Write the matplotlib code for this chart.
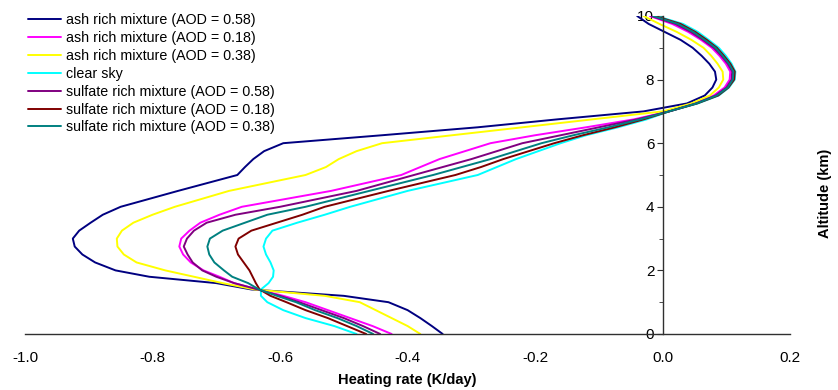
import matplotlib
matplotlib.use("Agg")
import matplotlib.pyplot as plt
from matplotlib.ticker import MultipleLocator

plt.rcParams['font.family'] = ['Liberation Sans', 'DejaVu Sans']

# Altitude levels (km)
altitude = [0, 0.25, 0.5, 0.75, 1.0, 1.2, 1.4, 1.6, 1.8, 2.0, 2.25, 2.5, 2.75, 3.0, 3.25,
            3.5, 3.75, 4.0, 4.5, 5.0, 5.25, 5.5, 5.75, 6.0, 6.25, 6.5, 6.75, 7.0, 7.25,
            7.5, 7.75, 8.0, 8.25, 8.5, 8.75, 9.0, 9.25, 9.5, 9.75, 10.0]

# Heating rate (K/day) per series at each altitude
ash_058 = [-0.345, -0.362, -0.38, -0.40, -0.43, -0.50, -0.645, -0.70, -0.805, -0.858,
           -0.89, -0.91, -0.922, -0.925, -0.915, -0.897, -0.878, -0.85, -0.76, -0.667,
           -0.655, -0.642, -0.625, -0.595, -0.44, -0.29, -0.165, -0.03, 0.038, 0.066,
           0.078, 0.084, 0.082, 0.073, 0.061, 0.047, 0.028, 0.003, -0.022, -0.04]
ash_018 = [-0.425, -0.455, -0.49, -0.525, -0.56, -0.595, -0.635, -0.672, -0.695, -0.72,
           -0.74, -0.752, -0.758, -0.755, -0.742, -0.725, -0.695, -0.66, -0.52, -0.41,
           -0.38, -0.35, -0.31, -0.27, -0.20, -0.12, -0.045, 0.01, 0.05, 0.08, 0.097,
           0.105, 0.106, 0.099, 0.089, 0.077, 0.06, 0.04, 0.015, -0.02]
ash_038 = [-0.38, -0.40, -0.425, -0.45, -0.475, -0.53, -0.64, -0.69, -0.735, -0.78,
           -0.825, -0.845, -0.855, -0.856, -0.848, -0.83, -0.80, -0.765, -0.68, -0.56,
           -0.528, -0.508, -0.48, -0.44, -0.33, -0.22, -0.11, 0.0, 0.045, 0.074, 0.088,
           0.095, 0.094, 0.086, 0.076, 0.064, 0.045, 0.022, -0.005, -0.03]
clear_sky = [-0.48, -0.515, -0.56, -0.595, -0.62, -0.63, -0.63, -0.618, -0.611, -0.61,
             -0.615, -0.622, -0.626, -0.622, -0.612, -0.573, -0.53, -0.49, -0.40, -0.29,
             -0.26, -0.23, -0.195, -0.16, -0.12, -0.07, -0.025, 0.01, 0.055, 0.088, 0.104,
             0.113, 0.114, 0.108, 0.099, 0.088, 0.072, 0.055, 0.032, -0.01]
sulf_058 = [-0.443, -0.47, -0.50, -0.535, -0.57, -0.60, -0.635, -0.672, -0.70, -0.722,
            -0.737, -0.745, -0.751, -0.746, -0.735, -0.715, -0.67, -0.60, -0.48, -0.39,
            -0.345, -0.30, -0.26, -0.22, -0.16, -0.10, -0.04, 0.01, 0.052, 0.083, 0.10,
            0.108, 0.109, 0.102, 0.092, 0.08, 0.063, 0.044, 0.02, -0.018]
sulf_018 = [-0.465, -0.495, -0.525, -0.56, -0.59, -0.615, -0.632, -0.638, -0.643, -0.648,
            -0.657, -0.666, -0.670, -0.665, -0.645, -0.605, -0.565, -0.53, -0.43, -0.325,
            -0.285, -0.25, -0.21, -0.17, -0.125, -0.075, -0.03, 0.01, 0.054, 0.087, 0.103,
            0.112, 0.113, 0.106, 0.096, 0.085, 0.069, 0.051, 0.028, -0.012]
sulf_038 = [-0.454, -0.48, -0.51, -0.545, -0.575, -0.605, -0.633, -0.65, -0.675, -0.688,
            -0.703, -0.711, -0.714, -0.71, -0.69, -0.655, -0.62, -0.56, -0.46, -0.36,
            -0.315, -0.27, -0.23, -0.19, -0.14, -0.085, -0.035, 0.01, 0.053, 0.085, 0.102,
            0.110, 0.111, 0.104, 0.094, 0.083, 0.066, 0.048, 0.024, -0.015]

labels = ["ash rich mixture (AOD = 0.58)", "ash rich mixture (AOD = 0.18)",
          "ash rich mixture (AOD = 0.38)", "clear sky",
          "sulfate rich mixture (AOD = 0.58)", "sulfate rich mixture (AOD = 0.18)",
          "sulfate rich mixture (AOD = 0.38)"]
series = [ash_058, ash_018, ash_038, clear_sky, sulf_058, sulf_018, sulf_038]
colors = ["#000080", "#FF00FF", "#FFFF00", "#00FFFF", "#800080", "#800000", "#008080"]

x_ticks = [-1.0, -0.8, -0.6, -0.4, -0.2, 0.0, 0.2]
y_ticks = [0, 2, 4, 6, 8, 10]

fig = plt.figure(figsize=(8.38, 3.9), dpi=100)
ax = fig.add_axes([0.0298, 0.1436, 0.9132, 0.8154])

handles = []
for vals, lab, col in zip(series, labels, colors):
    h, = ax.plot(vals, altitude, color=col, lw=1.4, label=lab,
                 solid_joinstyle='round', solid_capstyle='round')
    handles.append(h)

ax.set_xlim(-1.0, 0.2)
ax.set_ylim(0, 10)
ax.spines['top'].set_visible(False)
ax.spines['right'].set_visible(False)
ax.spines['left'].set_position(('data', 0))
ax.spines['bottom'].set_position(('data', 0))
for s in ('left', 'bottom'):
    ax.spines[s].set_color('#303030')
    ax.spines[s].set_linewidth(1.0)

ax.set_xticks(x_ticks)
ax.set_xticklabels([f"{v:.1f}" for v in x_ticks])
ax.set_yticks(y_ticks)
ax.set_yticklabels([str(v) for v in y_ticks])
ax.yaxis.set_minor_locator(MultipleLocator(1))
ax.tick_params(axis='x', length=0, pad=12, labelsize=11)
ax.tick_params(axis='y', which='major', length=4, direction='out', labelsize=11,
               color='#303030', pad=2)
ax.tick_params(axis='y', which='minor', length=3, direction='out', color='#303030')

ax.set_xlabel("Heating rate (K/day)", fontsize=10.5, fontweight='bold', labelpad=6)
fig.text(0.985, 0.505, "Altitude (km)", rotation=90, fontsize=10.5, fontweight='bold',
         ha='center', va='center')

fig.legend(handles=handles, loc='upper left', bbox_to_anchor=(0.034, 0.966),
           bbox_transform=fig.transFigure, frameon=False, fontsize=10.3,
           handlelength=2.3, handletextpad=0.35, labelspacing=0.27, borderpad=0,
           borderaxespad=0)

fig.savefig("out.png", dpi=100)
